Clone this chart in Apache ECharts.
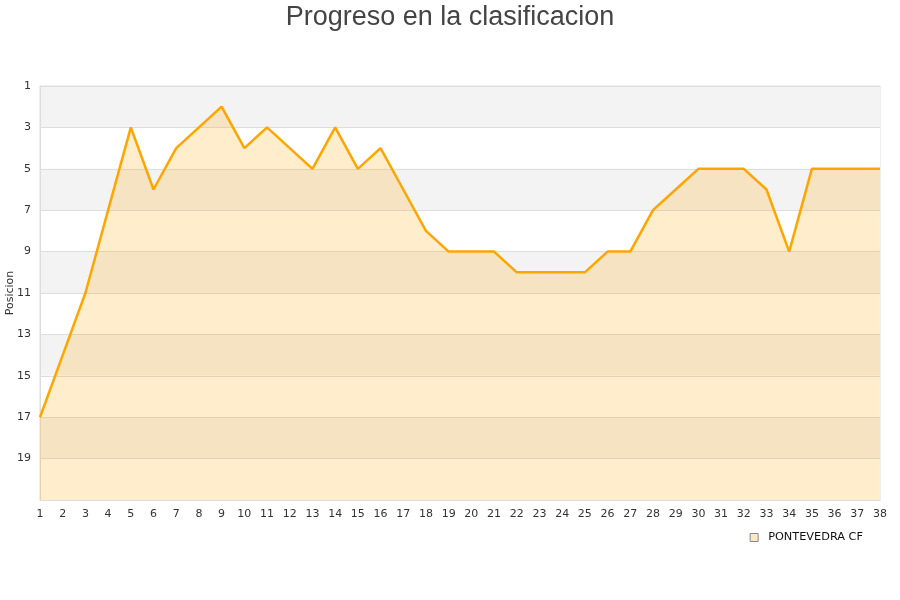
<!DOCTYPE html>
<html><head><meta charset="utf-8">
<script src="https://cdn.jsdelivr.net/npm/echarts@6/dist/echarts.min.js"></script>
<style>html,body{margin:0;padding:0;background:#fff}#c{width:900px;height:600px}</style>
</head><body><div id="c"></div>
<script>
const rounds = ['1','2','3','4','5','6','7','8','9','10','11','12','13','14','15','16','17','18','19','20','21','22','23','24','25','26','27','28','29','30','31','32','33','34','35','36','37','38'];
const positions = [17,14,11,7,3,6,4,3,2,4,3,4,5,3,5,4,6,8,9,9,9,10,10,10,10,9,9,7,6,5,5,5,6,9,5,5,5,5];
const teamName = 'PONTEVEDRA CF';
const titleText = 'Progreso en la clasificacion';
const yName = 'Posicion';

const chart = echarts.init(document.getElementById('c'));
chart.setOption({
  animation: false,
  title: {text: titleText, left: 'center', top: -1,
    textStyle: {fontFamily: 'Liberation Sans, Arial, sans-serif', fontSize: 27, fontWeight: 'normal', color: '#444'}},
  legend: {data: [{name: teamName, icon: 'rect', itemStyle: {color: '#fde8c4', borderColor: '#888', borderWidth: 1}}],
    right: 32, top: 527, itemWidth: 8, itemHeight: 8, itemGap: 6,
    textStyle: {fontFamily: 'DejaVu Sans, sans-serif', fontSize: 11.3, color: '#111', padding: [0, 0, 0, 5]}},
  grid: {left: 40, right: 20, top: 86, bottom: 100, show: true, borderColor: '#ddd', borderWidth: 1,
    containLabel: false, outerBoundsMode: 'none'},
  xAxis: {type: 'category', data: rounds, boundaryGap: false,
    axisLine: {show: true, lineStyle: {color: '#ddd'}}, axisTick: {show: false},
    axisLabel: {interval: 0, margin: 9, fontFamily: 'DejaVu Sans, sans-serif', fontSize: 11, color: '#333'},
    splitLine: {show: false}},
  yAxis: {type: 'value', inverse: true, min: 1, max: 21, interval: 2,
    name: yName, nameLocation: 'middle', nameGap: 24, nameRotate: 90, nameMoveOverlap: false,
    nameTextStyle: {fontFamily: 'DejaVu Sans, sans-serif', fontSize: 11, color: '#333'},
    axisLine: {show: true, lineStyle: {color: '#ddd'}}, axisTick: {show: false},
    axisLabel: {margin: 9, fontFamily: 'DejaVu Sans, sans-serif', fontSize: 11, color: '#333',
      formatter: v => v >= 21 ? '' : String(v)},
    splitLine: {show: true, lineStyle: {color: '#ddd'}},
    splitArea: {show: true, areaStyle: {color: ['#f3f3f3', '#ffffff']}}},
  series: [{name: teamName, type: 'line', data: positions, symbol: 'none',
    lineStyle: {color: '#FFA500', width: 2.5}, itemStyle: {color: '#FFA500'},
    areaStyle: {color: '#FFA500', opacity: 0.2, origin: 'end'}}]
});
</script></body></html>
